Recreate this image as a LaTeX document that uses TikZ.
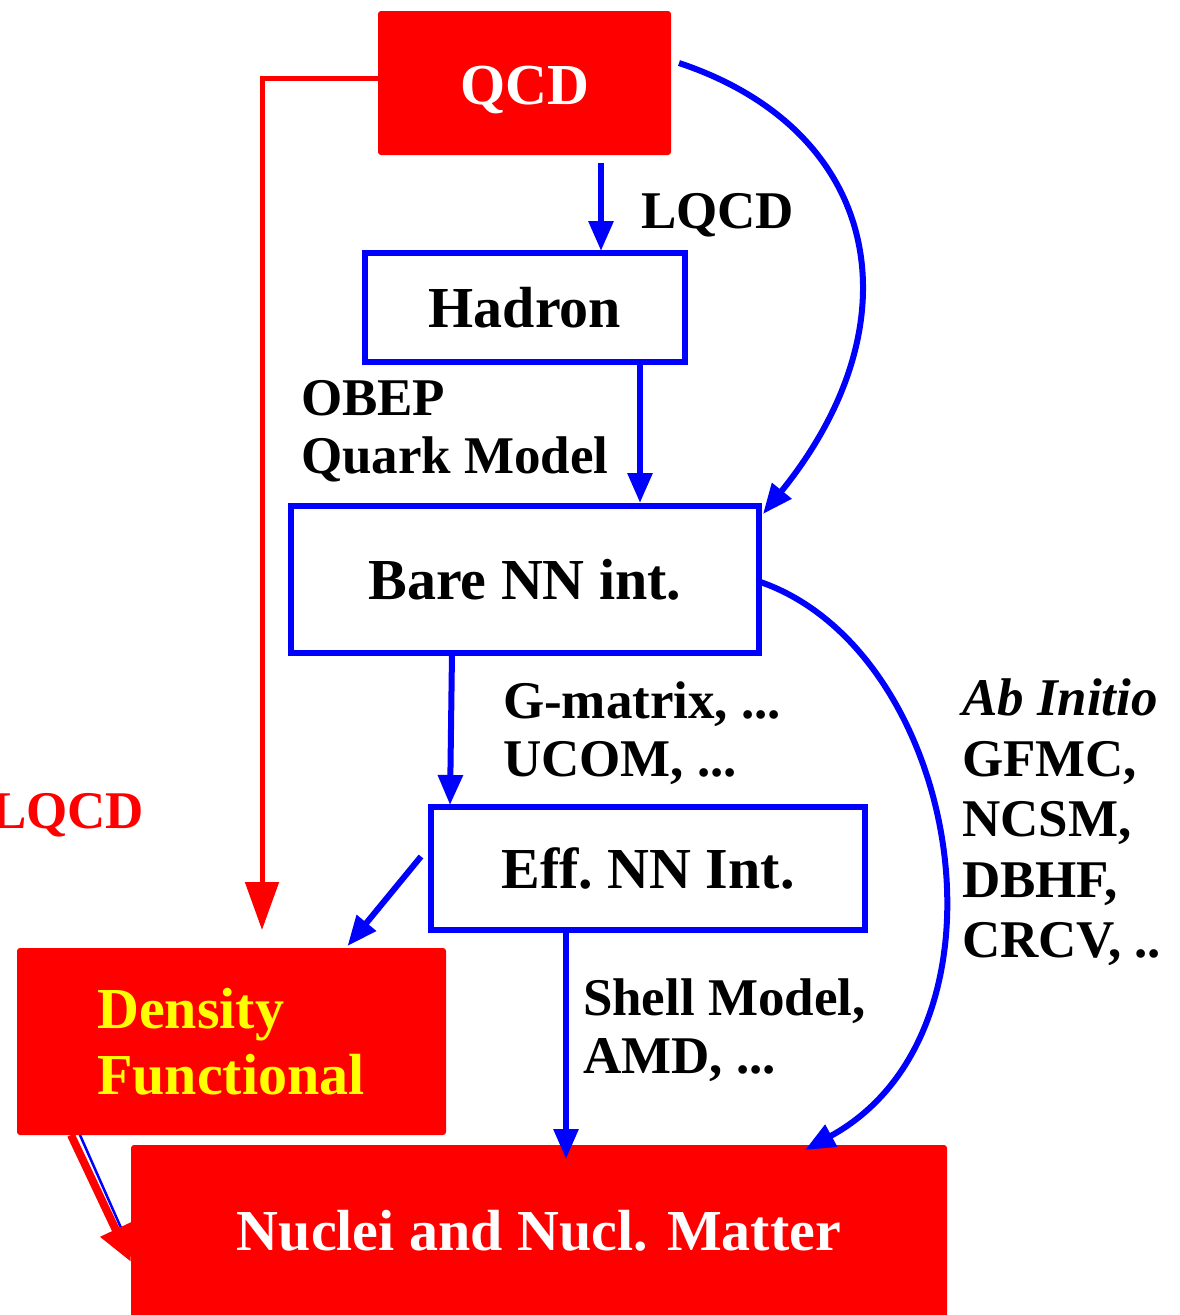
\documentclass[tikz,border=0pt]{standalone}
\usepackage{fontspec}
\setmainfont{Liberation Serif}
\usetikzlibrary{arrows.meta,calc}
\definecolor{pred}{RGB}{255,0,0}
\definecolor{pblue}{RGB}{0,0,255}
\definecolor{pyel}{RGB}{255,255,0}
\tikzset{
  boxfont/.style={font=\fontsize{58}{64}\selectfont\bfseries},
  lab/.style={font=\fontsize{53}{60}\selectfont\bfseries, anchor=base west, inner sep=0pt, outer sep=0pt},
  redbox/.style={fill=pred, draw=none, rounded corners=3pt, inner sep=0pt, outer sep=0pt, boxfont},
  bluebox/.style={draw=pblue, line width=6pt, fill=white, inner sep=0pt, outer sep=0pt, boxfont},
  barrow/.style={draw=pblue, line width=6pt, -{Triangle[length=30pt,width=24pt]}},
  rarrow/.style={draw=pred, line width=5pt, -{Triangle[length=48pt,width=33pt]}},
}
\begin{document}
\begin{tikzpicture}[x=1pt,y=-1pt]
\useasboundingbox (0,0) rectangle (1179,1315);
% boxes
\node[redbox, minimum width=293pt, minimum height=144pt] (qcd) at (524.5,83) {};
\node[boxfont, text=white, anchor=base, inner sep=0pt] (qcdtext) at (524.5,104) {QCD};
\node[bluebox, minimum width=320pt, minimum height=109pt] (had) at (525,307.5) {Hadron};
\node[bluebox, minimum width=468pt, minimum height=147pt] (bare) at (525,579.5) {Bare NN int.};
\node[bluebox, minimum width=434pt, minimum height=123pt] (eff) at (648,868.5) {Eff.\ NN Int.};
\node[redbox, minimum width=429pt, minimum height=187pt] (dens) at (231.5,1041.5) {};
\draw[pblue, line width=2.5pt] ([xshift=63pt]dens.south west) -- (133,1255);
\node[redbox, minimum width=816pt, minimum height=180pt] (nuc) at (539,1235) {};
\node[boxfont, text=white, anchor=base, inner sep=0pt] (nuctext) at (539,1250) {Nuclei and Nucl. Matter};
\node[boxfont, text=pyel, anchor=base west, inner sep=0pt] (d1) at (97,1028) {Density};
\node[boxfont, text=pyel, anchor=base west, inner sep=0pt] (d2) at (97,1094) {Functional};
% labels
\node[lab] (l1) at (641,228) {LQCD};
\node[lab] (l2) at (301,415) {OBEP};
\node[lab] (l3) at (301,473) {Quark Model};
\node[lab] (l4) at (503,718) {G-matrix, ...};
\node[lab] (l5) at (503,776) {UCOM, ...};
\node[lab] (l6) at (962,715) {\itshape Ab Initio};
\node[lab] (l7) at (962,776) {GFMC,};
\node[lab] (l8) at (962,836) {NCSM,};
\node[lab] (l9) at (962,897) {DBHF,};
\node[lab] (l10) at (962,957) {CRCV, ..};
\node[lab] (l11) at (583,1015) {Shell Model,};
\node[lab] (l12) at (583,1073) {AMD, ...};
\node[lab, text=pred] (l13) at (-9,828) {LQCD};
% connectors
\draw[barrow] ([xshift=76.5pt,yshift=-8pt]qcd.south) -- ([xshift=76pt,yshift=2pt]had.north);
\draw[barrow] ([xshift=115pt]had.south) -- ([xshift=115pt,yshift=3pt]bare.north);
\draw[barrow] ([xshift=-73pt]bare.south) -- ([xshift=-198pt,yshift=2pt]eff.north);
\draw[barrow] ([xshift=-10pt,yshift=12pt]eff.west) -- ([xshift=116pt,yshift=2pt]dens.north);
\draw[rarrow] ([yshift=5pt]qcd.west) -| ([xshift=30.5pt,yshift=18pt]dens.north);
\draw[rarrow, line width=8pt, -{Triangle[length=36pt,width=32pt]}] ([xshift=54pt]dens.south west) -- ([yshift=-117pt]nuc.north west);
\draw[barrow] ([xshift=-82pt]eff.south) -- ([xshift=27pt,yshift=-14pt]nuc.north);
\draw[barrow] ([xshift=8pt,yshift=20pt]qcd.east) .. controls (880,130) and (920,320) .. ([xshift=4pt,yshift=-8pt]bare.north east);
\draw[barrow] ([yshift=-2pt]bare.east) .. controls (960,650) and (1025,1030) .. ([xshift=266pt,yshift=-5pt]nuc.north);
\end{tikzpicture}
\end{document}
